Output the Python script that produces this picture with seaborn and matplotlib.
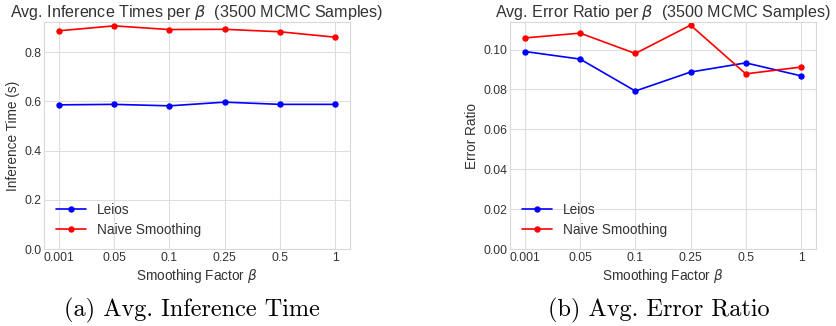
import numpy as np
import pandas as pd
import matplotlib
matplotlib.use("Agg")
import matplotlib.pyplot as plt
import seaborn as sns

# ---------------------------------------------------------------------------
betas = ["0.001", "0.05", "0.1", "0.25", "0.5", "1"]

leios_time = [0.586, 0.588, 0.582, 0.597, 0.588, 0.588]
naive_time = [0.887, 0.907, 0.892, 0.893, 0.883, 0.861]

leios_err = [0.0990, 0.0952, 0.0792, 0.0887, 0.0933, 0.0868]
naive_err = [0.1058, 0.1082, 0.0980, 0.1122, 0.0878, 0.0912]

series_names = ["Leios", "Naive Smoothing"]
series_colors = ["blue", "red"]

# ---------------------------------------------------------------------------
sns.set_style("whitegrid", {"grid.color": ".87", "axes.edgecolor": ".85"})
plt.rcParams["font.family"] = ["Liberation Sans", "DejaVu Sans"]
plt.rcParams["text.color"] = ".2"
plt.rcParams["axes.labelcolor"] = ".2"
plt.rcParams["xtick.color"] = ".2"
plt.rcParams["ytick.color"] = ".2"

fig = plt.figure(figsize=(8.36, 3.26), dpi=100)
ax1 = fig.add_axes([0.0526, 0.236, 0.366, 0.696])
ax2 = fig.add_axes([0.610, 0.236, 0.366, 0.696])

x = np.arange(len(betas))

panels = [
    (ax1, [leios_time, naive_time], "Avg. Inference Times per $\\beta$  (3500 MCMC Samples)",
     "Inference Time (s)", 0.922, np.arange(0, 0.81, 0.2), "{:.1f}"),
    (ax2, [leios_err, naive_err], "Avg. Error Ratio per $\\beta$  (3500 MCMC Samples)",
     "Error Ratio", 0.1137, np.arange(0, 0.101, 0.02), "{:.2f}"),
]

for ax, vals, title, ylabel, ytop, yticks, fmt in panels:
    for name, color, v in zip(series_names, series_colors, vals):
        sns.lineplot(x=x, y=v, ax=ax, color=color, label=name, marker="o",
                     markersize=4.6, markeredgewidth=0, linewidth=1.2)
    ax.set_xlim(-0.27, len(betas) - 1 + 0.27)
    ax.set_ylim(0, ytop)
    ax.set_xticks(x)
    ax.set_xticklabels(betas, fontsize=8.7)
    ax.set_yticks(yticks)
    ax.set_yticklabels([fmt.format(t) for t in yticks], fontsize=8.7)
    ax.tick_params(axis="both", length=0, pad=2)
    ax.set_title(title, fontsize=11.6, pad=4)
    ax.set_xlabel("Smoothing Factor $\\beta$", fontsize=9.8, labelpad=2)
    ax.set_ylabel(ylabel, fontsize=9.8, labelpad=3)
    ax.legend(loc="lower left", frameon=False, fontsize=9.8, bbox_to_anchor=(0.0, 0.0),
              handlelength=2.2, labelspacing=0.45)

fig.text(0.230, 0.03, "(a) Avg. Inference Time", family="cmr10", fontsize=17.5,
         ha="center", va="baseline", color="black")
fig.text(0.788, 0.03, "(b) Avg. Error Ratio", family="cmr10", fontsize=17.5,
         ha="center", va="baseline", color="black")

fig.savefig("out.png", dpi=100)
